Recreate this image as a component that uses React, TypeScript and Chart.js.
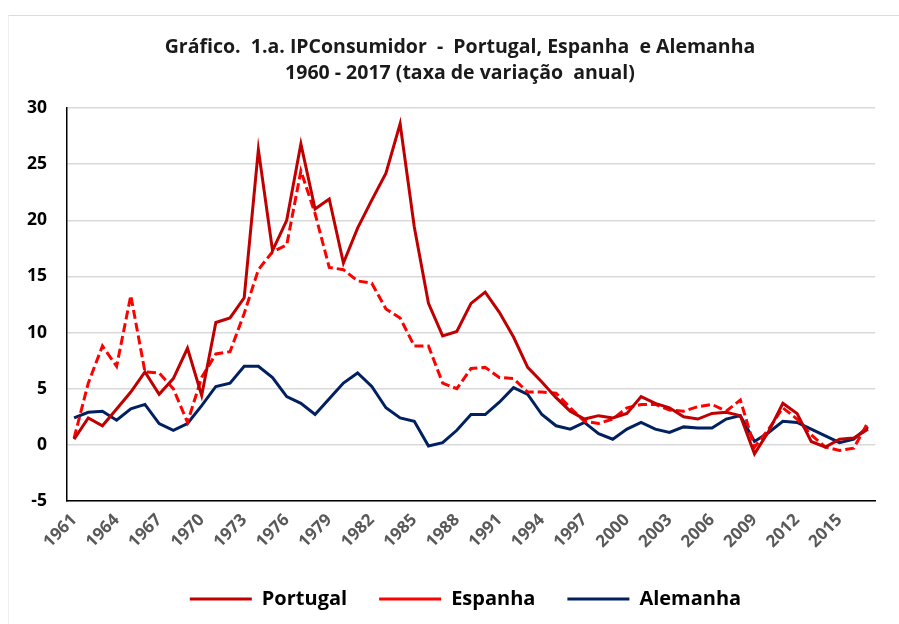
import React, { useEffect, useRef } from "react";
import { Chart, registerables } from "chart.js";

Chart.register(...registerables);

const years: string[] = [];
for (let y = 1961; y <= 2017; y++) years.push(String(y));

const portugal = [
  0.5, 2.4, 1.7, 3.2, 4.7, 6.5, 4.5, 5.9, 8.6, 4.4,
  10.9, 11.3, 13.1, 26.3, 17.3, 20.0, 26.8, 21.0, 21.9, 16.2,
  19.3, 21.8, 24.2, 28.6, 19.4, 12.6, 9.7, 10.1, 12.6, 13.6,
  11.8, 9.6, 6.9, 5.6, 4.2, 3.0, 2.3, 2.6, 2.4, 2.8,
  4.3, 3.7, 3.3, 2.5, 2.3, 2.8, 2.9, 2.6, -0.8, 1.2,
  3.7, 2.8, 0.3, -0.2, 0.5, 0.6, 1.4,
];

const espanha = [
  0.6, 5.5, 8.8, 7.0, 13.3, 6.5, 6.4, 5.0, 2.0, 6.0,
  8.1, 8.3, 11.7, 15.6, 17.2, 17.8, 24.4, 20.6, 15.8, 15.6,
  14.6, 14.4, 12.1, 11.3, 8.8, 8.8, 5.5, 5.0, 6.8, 6.9,
  6.0, 5.9, 4.7, 4.7, 4.6, 3.3, 2.1, 1.9, 2.3, 3.3,
  3.6, 3.6, 3.1, 3.0, 3.4, 3.6, 3.0, 4.0, -0.2, 1.4,
  3.3, 2.3, 0.9, -0.2, -0.5, -0.3, 2.0,
];

const alemanha = [
  2.4, 2.9, 3.0, 2.2, 3.2, 3.6, 1.9, 1.3, 1.9, 3.5,
  5.2, 5.5, 7.0, 7.0, 6.0, 4.3, 3.7, 2.7, 4.1, 5.5,
  6.4, 5.2, 3.3, 2.4, 2.1, -0.1, 0.2, 1.3, 2.7, 2.7,
  3.8, 5.1, 4.5, 2.7, 1.7, 1.4, 2.0, 1.0, 0.5, 1.4,
  2.0, 1.4, 1.1, 1.6, 1.5, 1.5, 2.3, 2.6, 0.3, 1.1,
  2.1, 2.0, 1.4, 0.8, 0.2, 0.5, 1.6,
];

const titleLines = [
  "Gráfico.  1.a. IPConsumidor  -  Portugal, Espanha  e Alemanha",
  "1960 - 2017 (taxa de variação  anual)",
];

const FONT = "'Open Sans', 'Noto Sans', sans-serif";

const shiftBoxes = {
  id: "shiftBoxes",
  afterLayout(chart: any) {
    if (chart.titleBlock) chart.titleBlock.left = 45;
    if (chart.legend) chart.legend.left = 56;
  },
};

export default function App() {
  const ref = useRef<HTMLCanvasElement>(null);

  useEffect(() => {
    if (!ref.current) return;
    const chart = new Chart(ref.current, {
      type: "line",
      data: {
        labels: years,
        datasets: [
          {
            label: "Portugal",
            data: portugal,
            borderColor: "#C00000",
            backgroundColor: "#C00000",
            borderWidth: 3,
            pointRadius: 0,
            tension: 0,
          },
          {
            label: "Espanha",
            data: espanha,
            borderColor: "#FF0000",
            backgroundColor: "#FF0000",
            borderWidth: 3,
            borderDash: [9, 4],
            pointRadius: 0,
            tension: 0,
          },
          {
            label: "Alemanha",
            data: alemanha,
            borderColor: "#002060",
            backgroundColor: "#002060",
            borderWidth: 3,
            pointRadius: 0,
            tension: 0,
          },
        ],
      },
      plugins: [shiftBoxes],
      options: {
        animation: false,
        responsive: false,
        maintainAspectRatio: false,
        layout: { padding: { left: 0, right: 24, top: 0, bottom: 5 } },
        plugins: {
          tooltip: { enabled: false },
          title: {
            display: true,
            text: titleLines,
            color: "#1a1a1a",
            font: { family: FONT, size: 19.5, weight: "bold", lineHeight: 26 / 19.5 },
            padding: { top: 34, bottom: 22 },
          },
          legend: {
            position: "bottom",
            labels: {
              usePointStyle: true,
              pointStyle: "line",
              pointStyleWidth: 62,
              padding: 32,
              color: "#000",
              font: { family: FONT, size: 20, weight: "bold" },
            },
          },
        },
        scales: {
          x: {
            offset: true,
            grid: { display: false, drawTicks: false },
            border: { display: true, color: "#000", width: 1.5 },
            ticks: {
              autoSkip: false,
              maxRotation: 45,
              minRotation: 45,
              padding: 9,
              color: "#595959",
              font: { family: FONT, size: 17, weight: "bold" },
              callback: (_v: any, i: number) => (i % 3 === 0 ? years[i] : ""),
            },
            afterFit: (s: any) => {
              s.height = 56;
              s.paddingLeft = 0;
              s.paddingRight = 0;
            },
          },
          y: {
            min: -5,
            max: 30,
            ticks: {
              stepSize: 5,
              padding: 20,
              color: "#000",
              font: { family: FONT, size: 17.5, weight: "bold" },
            },
            grid: { color: "#d9d9d9", lineWidth: 1.5, drawTicks: false },
            border: { display: true, color: "#000", width: 1.5 },
            afterFit: (s: any) => {
              s.width = 67;
            },
          },
        },
      },
    });
    return () => chart.destroy();
  }, []);

  return (
    <div style={{ position: "absolute", left: 0, top: 0, width: 899, height: 624, background: "#fff" }}>
      <div
        style={{
          position: "absolute",
          left: 8,
          top: 15,
          right: 0,
          bottom: 0,
          borderTop: "1px solid #dcdcdc",
          borderLeft: "1px solid #f0f0f0",
        }}
      />
      <canvas ref={ref} width={899} height={624} style={{ position: "absolute", left: 0, top: 0 }} />
    </div>
  );
}
